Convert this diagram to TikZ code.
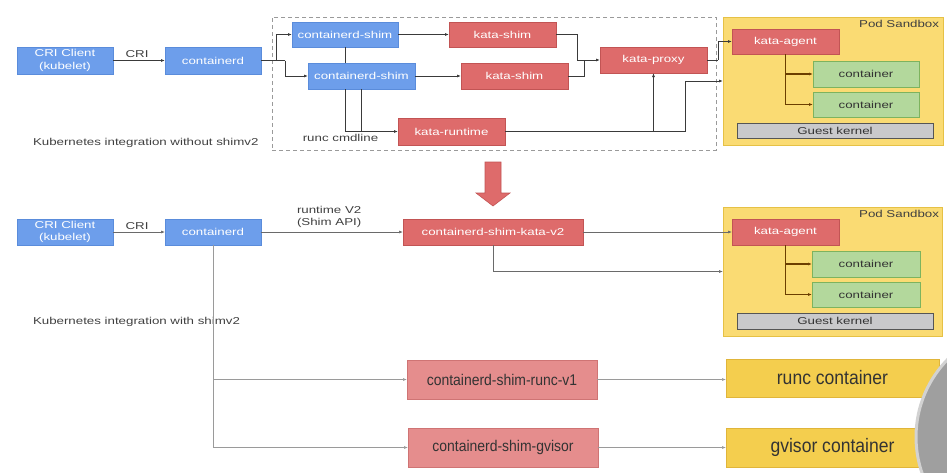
\documentclass[tikz,border=0pt]{standalone}
\usepackage{fontspec}
\setmainfont{Liberation Sans}[FakeStretch=1.33]
\newfontfamily\narrowfont{Liberation Sans}[FakeStretch=0.9]
\usetikzlibrary{arrows.meta}
\definecolor{cblue}{HTML}{6D9EEB}
\definecolor{cblueD}{HTML}{5A8CDB}
\definecolor{cred}{HTML}{DE6B6B}
\definecolor{credD}{HTML}{C25454}
\definecolor{clred}{HTML}{E58D8D}
\definecolor{clredD}{HTML}{CF7474}
\definecolor{cyel}{HTML}{FADB73}
\definecolor{cyelD}{HTML}{E6C145}
\definecolor{cyel2}{HTML}{F4CE4E}
\definecolor{cyel2D}{HTML}{E0B53A}
\definecolor{cgreen}{HTML}{B3D89C}
\definecolor{cgreenD}{HTML}{7DB35E}
\definecolor{cgray}{HTML}{C9C9CB}
\definecolor{cgrayD}{HTML}{555555}
\definecolor{ctext}{HTML}{333333}
\definecolor{clabel}{HTML}{404040}
\definecolor{cline}{HTML}{3A3A3A}
\definecolor{cline2}{HTML}{6A6A6A}
\definecolor{cline3}{HTML}{9A9A9A}
\definecolor{ctree}{HTML}{6B3E00}
\definecolor{cdash}{HTML}{9A9A9A}
\begin{document}
\begin{tikzpicture}[x=1pt,y=-1pt,
  every node/.style={font=\fontsize{10}{12.5}\selectfont, inner sep=0pt, outer sep=0pt},
  bx/.style 2 args={minimum width=#1, minimum height=#2},
  bluebox/.style={fill=cblue, draw=cblueD, line width=0.5pt, text=white, align=center},
  redbox/.style={fill=cred, draw=credD, line width=0.6pt, text=white, align=center},
  lredbox/.style={fill=clred, draw=clredD, line width=0.6pt, text=ctext, font=\narrowfont\fontsize{15.5}{18}\selectfont},
  ybox/.style={fill=cyel2, draw=cyel2D, line width=0.6pt, text=ctext, font=\narrowfont\fontsize{19.5}{22}\selectfont},
  gbox/.style={fill=cgreen, draw=cgreenD, line width=0.8pt, text=ctext},
  kbox/.style={fill=cgray, draw=cgrayD, line width=0.8pt, text=ctext},
  podbox/.style={fill=cyel, draw=cyelD, line width=0.8pt},
  grpbox/.style={draw=cdash, line width=0.7pt, dash pattern=on 4pt off 3pt},
  lbl/.style={text=clabel},
  tipa/.style={-{Latex[length=4pt,width=3pt]}},
  wire/.style={draw=cline, line width=0.8pt},
  conn/.style={wire, tipa},
  wire2/.style={draw=cline2, line width=0.6pt},
  conn2/.style={wire2, tipa},
  conn3/.style={draw=cline3, line width=0.6pt, tipa},
  treewire/.style={draw=ctree, line width=1.1pt},
  treeconn/.style={treewire, tipa}]
\useasboundingbox (0,0) rectangle (947,472);

% ---------------- top: without shimv2 ----------------
\node[bluebox,bx={96}{27},font=\fontsize{10}{12.5}\selectfont] (cri1) at (65,60.5) {CRI Client\\(kubelet)};
\node[bluebox,bx={96}{27}] (ctd1) at (213,60.5) {containerd};
\node[grpbox,bx={444}{133}] (grp) at (494,83.5) {};
\node[bluebox,bx={106}{25}] (shim1) at (345,34.5) {containerd-shim};
\node[redbox,bx={107}{25}] (kshim1) at (502.5,34.5) {kata-shim};
\node[bluebox,bx={107}{26}] (shim2) at (361.5,76) {containerd-shim};
\node[redbox,bx={107}{26}] (kshim2) at (514.5,76) {kata-shim};
\node[redbox,bx={107}{26}] (kproxy) at (653.5,60) {kata-proxy};
\node[redbox,bx={107}{27}] (kruntime) at (451.5,131.5) {kata-runtime};
\node[lbl] (cmdl) at (340.5,137.5) {runc cmdline};
\node[lbl,anchor=west] (cap1) at (33,143) {Kubernetes integration without shimv2};
\node[podbox,bx={220}{128}] (pod1) at (833,81) {};
\node[lbl,anchor=east] (podl1) at (939,24) {Pod Sandbox};
\node[redbox,bx={107}{25}] (agent1) at (785.5,41.5) {kata-agent};
\node[gbox,bx={106}{26}] (c1a) at (866,74) {container};
\node[gbox,bx={106}{25}] (c1b) at (866,104.5) {container};
\node[kbox,bx={196}{15}] (gk1) at (835,130.5) {Guest kernel};

\node[lbl] (cril1) at (137,54) {CRI};
\draw[conn] (cri1) -- (ctd1);
\coordinate (j1) at (276,60.5);
\coordinate (j2) at (285,60.5);
\draw[wire] (ctd1.east) -- (j2);
\draw[conn] (j1) |- (shim1.west);
\draw[conn] (j2) |- (shim2.west);
\draw[conn] (shim1) -- (kshim1);
\draw[conn] (shim2) -- (kshim2);
\coordinate (j3) at (577,60);
\coordinate (j4) at (584,60);
\draw[wire] (kshim1.east) -| (j3);
\draw[wire] (kshim2.east) -| (j4);
\draw[conn] (j3) -- (kproxy.west);
\draw[wire] (shim1.south) -- (shim2.north -| shim1.south);
\coordinate (j5) at (shim1.south |- kruntime.west);
\draw[wire] (shim2.south -| shim1.south) -- (j5);
\draw[wire] (shim2.south) -- (shim2.south |- kruntime.west);
\draw[conn] (j5) -- (kruntime.west);
\draw[conn] (kruntime.east) -| (kproxy.south);
\coordinate (j6) at (685,131.5);
\draw[wire] (kproxy.south |- kruntime.east) -- (j6);
\draw[conn] (j6) |- (pod1.west);
\coordinate (j7) at (718,60);
\draw[wire] (kproxy.east) -- (j7);
\draw[conn] (j7) |- (agent1.west);
\draw[treewire] (agent1.south) -- (agent1.south |- c1b.west);
\draw[treeconn] (agent1.south |- c1a.west) -- (c1a.west);
\draw[treeconn] (agent1.south |- c1b.west) -- (c1b.west);

% ---------------- big arrow ----------------
\filldraw[fill=cred, draw=credD, line width=0.6pt]
  (485,162) -- (501,162) -- (501,193) -- (510,193) -- (493,206) -- (476,193) -- (485,193) -- cycle;

% ---------------- bottom: with shimv2 ----------------
\node[bluebox,bx={96}{26}] (cri2) at (65,232) {CRI Client\\(kubelet)};
\node[bluebox,bx={96}{26}] (ctd2) at (213,232) {containerd};
\node[redbox,bx={180}{26}] (kv2) at (493,232) {containerd-shim-kata-v2};
\node[lbl,anchor=west,align=left,font=\fontsize{10}{12}\selectfont] (rv2) at (297,217) {runtime V2\\(Shim API)};
\node[lbl] (cril2) at (137,226) {CRI};
\node[lbl,anchor=west] (cap2) at (33,322) {Kubernetes integration with shimv2};
\node[podbox,bx={219}{129}] (pod2) at (832.5,271.5) {};
\node[lbl,anchor=east] (podl2) at (939,214) {Pod Sandbox};
\node[redbox,bx={107}{26}] (agent2) at (785.5,232) {kata-agent};
\node[gbox,bx={108}{26}] (c2a) at (866,264) {container};
\node[gbox,bx={108}{25}] (c2b) at (866,294.5) {container};
\node[kbox,bx={196}{16}] (gk2) at (835,321) {Guest kernel};
\node[lredbox,bx={190}{39}] (runcv1) at (502,379.5) {containerd-shim-runc-v1};
\node[lredbox,bx={190}{39}] (gvs) at (503,447.5) {containerd-shim-gvisor};
\node[ybox,bx={213}{38}] (runcc) at (832.5,378) {runc container};
\node[ybox,bx={213}{39}] (gvc) at (832.5,447.5) {gvisor container};

\draw[conn2] (cri2) -- (ctd2);
\draw[conn2] (ctd2) -- (kv2);
\draw[conn2] (kv2) -- (agent2);
\draw[conn2] (kv2.south) |- (pod2.west);
\draw[treewire] (agent2.south) -- (agent2.south |- c2b.west);
\draw[treeconn] (agent2.south |- c2a.west) -- (c2a.west);
\draw[treeconn] (agent2.south |- c2b.west) -- (c2b.west);
\draw[conn3] (ctd2.south) |- (runcv1.west);
\draw[conn3] (ctd2.south) |- (gvs.west);
\draw[conn3] (runcv1.east) -- (runcv1.east -| runcc.west);
\draw[conn3] (gvs) -- (gvc);

% ---------------- overlay circle at the corner ----------------
\begin{scope}
  \clip (0,0) rectangle (947,472);
  \filldraw[fill=gray!75, draw=gray!35, line width=3pt] (1027,437) circle[radius=111];
\end{scope}
\end{tikzpicture}
\end{document}
